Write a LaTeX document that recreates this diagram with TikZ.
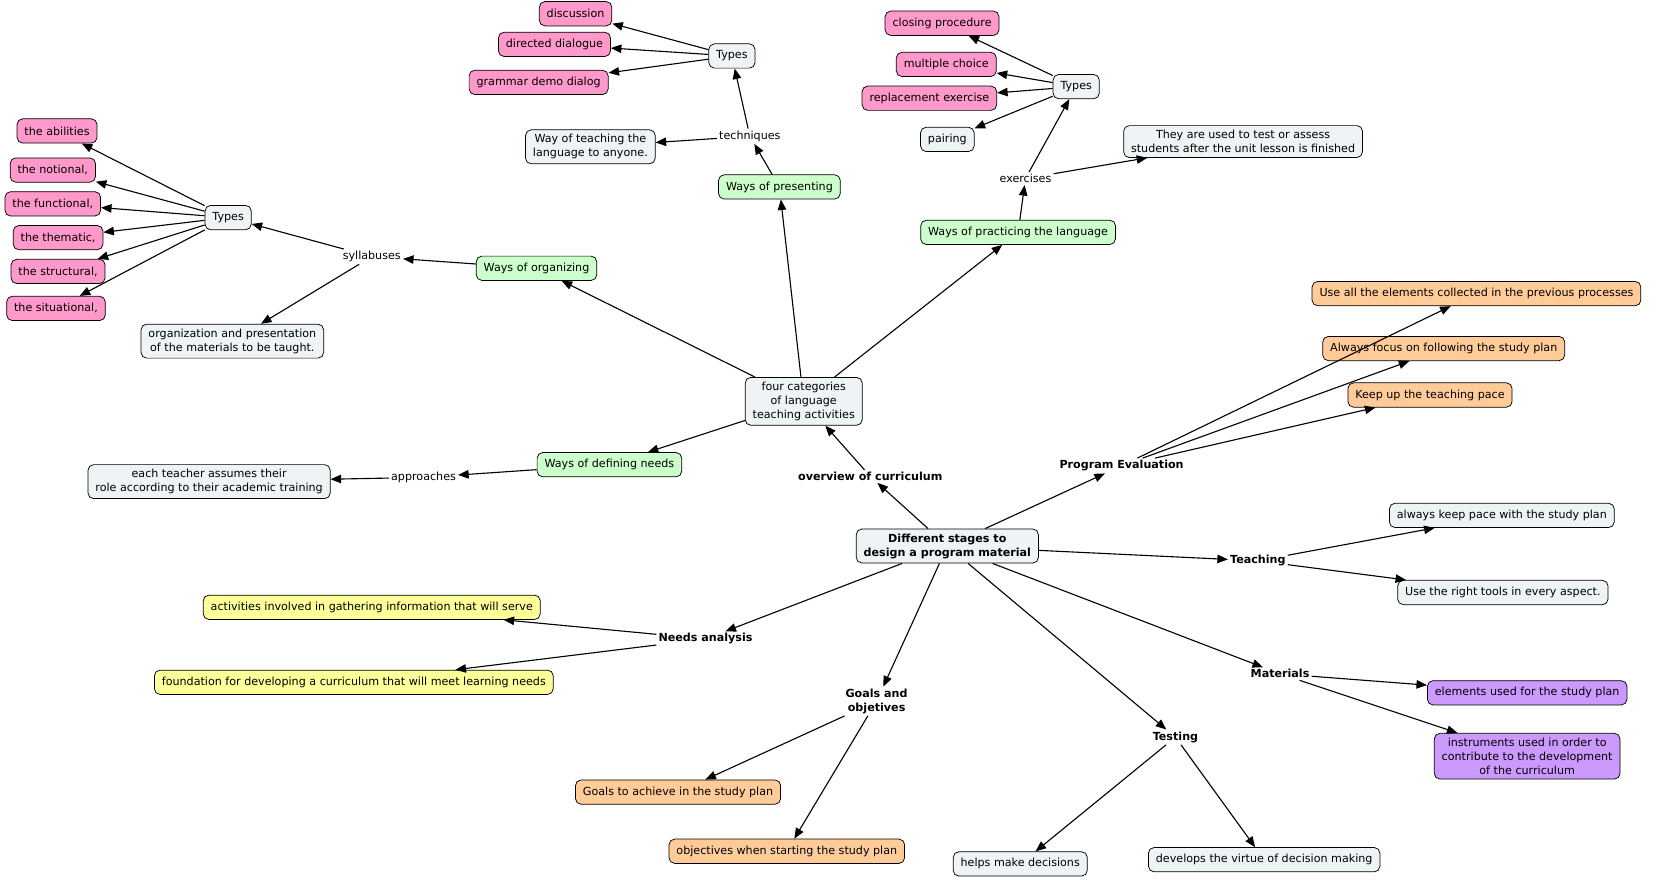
\documentclass[tikz,border=0pt]{standalone}
\usepackage{fontspec}
\setmainfont{DejaVu Sans}
\usetikzlibrary{arrows.meta}
\definecolor{pinkbox}{HTML}{FF99CC}
\definecolor{greenbox}{HTML}{CCFFCC}
\definecolor{orangebox}{HTML}{FFCC99}
\definecolor{yellowbox}{HTML}{FFFF99}
\definecolor{purplebox}{HTML}{CC99FF}
\definecolor{graybox}{HTML}{EEF3F5}
\begin{document}
\begin{tikzpicture}[
		x=0.02cm, y=-0.02cm,
		every node/.style={font=\fontsize{6}{7.5}\selectfont, align=center},
		box/.style={draw, rounded corners=3pt, fill=graybox, inner xsep=4pt, inner ysep=2.5pt, minimum height=0.46cm},
		pinkn/.style={box, fill=pinkbox},
		greenn/.style={box, fill=greenbox},
		orangen/.style={box, fill=orangebox},
		yellown/.style={box, fill=yellowbox},
		purplen/.style={box, fill=purplebox},
		link/.style={inner sep=1pt, fill=white},
		blink/.style={link, font=\fontsize{6}{7.5}\selectfont\bfseries},
		arrow/.style={-{Triangle[length=2mm, width=1.6mm]}, semithick}
		]
		\useasboundingbox (0,0) rectangle (1568,833);
		
		% Centre
		\node[box, font=\fontsize{6}{7.5}\selectfont\bfseries] (stages) at (897,517) {Different stages to\\design a program material};
		\node[blink] (overview) at (824,451) {overview of curriculum};
		\node[box] (four) at (761,380) {four categories\\of language\\teaching activities};
		
		% Ways of defining needs
		\node[greenn] (defining) at (577,440) {Ways of defining needs};
		\node[link] (approaches) at (401,452) {approaches};
		\node[box] (teacher) at (198,456) {each teacher assumes their\\role according to their academic training};
		
		% Ways of organizing
		\node[greenn] (organizing) at (508,254) {Ways of organizing};
		\node[link] (syllabuses) at (352,243) {syllabuses};
		\node[box] (typesA) at (216,206) {Types};
		\node[box] (organization) at (220,323) {organization and presentation\\of the materials to be taught.};
		\node[pinkn] (abilities) at (54,124) {the abilities};
		\node[pinkn] (notional) at (50,161) {the notional,};
		\node[pinkn] (functional) at (50,193) {the functional,};
		\node[pinkn] (thematic) at (55,225) {the thematic,};
		\node[pinkn] (structural) at (55,257) {the structural,};
		\node[pinkn] (situational) at (53,292) {the situational,};
		
		% Ways of presenting
		\node[greenn] (presenting) at (738,177) {Ways of presenting};
		\node[link] (techniques) at (710,129) {techniques};
		\node[box] (wayteach) at (559,139) {Way of teaching the\\language to anyone.};
		\node[box] (typesB) at (693,53) {Types};
		\node[pinkn] (discussion) at (545,13) {discussion};
		\node[pinkn] (directed) at (525,42) {directed dialogue};
		\node[pinkn] (grammar) at (510,78) {grammar demo dialog};
		
		% Ways of practicing
		\node[greenn] (practicing) at (964,220) {Ways of practicing the language};
		\node[link] (exercises) at (971,169) {exercises};
		\node[box] (assess) at (1177,134) {They are used to test or assess\\students after the unit lesson is finished};
		\node[box] (typesC) at (1019,82) {Types};
		\node[pinkn] (closing) at (892,22) {closing procedure};
		\node[pinkn] (multiple) at (896,61) {multiple choice};
		\node[pinkn] (replacement) at (880,93) {replacement exercise};
		\node[box] (pairing) at (897,132) {pairing};
		
		% Program Evaluation
		\node[blink] (evaluation) at (1062,441) {Program Evaluation};
		\node[orangen] (useall) at (1398,278) {Use all the elements collected in the previous processes};
		\node[orangen] (focus) at (1367,330) {Always focus on following the study plan};
		\node[orangen] (pace) at (1354,374) {Keep up the teaching pace};
		
		% Teaching
		\node[blink] (teaching) at (1191,531) {Teaching};
		\node[box] (keeppace) at (1422,488) {always keep pace with the study plan};
		\node[box] (tools) at (1423,561) {Use the right tools in every aspect.};
		
		% Materials
		\node[blink] (materials) at (1212,638) {Materials};
		\node[purplen] (elements) at (1446,656) {elements used for the study plan};
		\node[purplen] (instruments) at (1446,716) {instruments used in order to\\contribute to the development\\of the curriculum};
		
		% Testing
		\node[blink] (testing) at (1113,698) {Testing};
		\node[box] (decisions) at (966,818) {helps make decisions};
		\node[box] (virtue) at (1197,814) {develops the virtue of decision making};
		
		% Goals
		\node[blink] (goals) at (830,664) {Goals and\\objetives};
		\node[orangen] (achieve) at (642,750) {Goals to achieve in the study plan};
		\node[orangen] (objectives) at (745,806) {objectives when starting the study plan};
		
		% Needs analysis
		\node[blink] (needs) at (668,605) {Needs analysis};
		\node[yellown] (gathering) at (352,575) {activities involved in gathering information that will serve};
		\node[yellown] (foundation) at (335,646) {foundation for developing a curriculum that will meet learning needs};
		
		% Links
		\draw[arrow] (stages) -- (overview);
		\draw[arrow] (overview) -- (four);
		\foreach \t in {organizing, presenting, practicing, defining}
			\draw[arrow] (four) -- (\t);
		\draw[arrow] (defining) -- (approaches);
		\draw[arrow] (approaches) -- (teacher);
		\draw[arrow] (organizing) -- (syllabuses);
		\draw[arrow] (syllabuses) -- (typesA);
		\draw[arrow] (syllabuses) -- (organization);
		\foreach \t in {abilities, notional, functional, thematic, structural, situational}
			\draw[arrow] (typesA) -- (\t);
		\draw[arrow] (presenting) -- (techniques);
		\draw[arrow] (techniques) -- (wayteach);
		\draw[arrow] (techniques) -- (typesB);
		\foreach \t in {discussion, directed, grammar}
			\draw[arrow] (typesB) -- (\t);
		\draw[arrow] (practicing) -- (exercises);
		\draw[arrow] (exercises) -- (assess);
		\draw[arrow] (exercises) -- (typesC);
		\foreach \t in {closing, multiple, replacement, pairing}
			\draw[arrow] (typesC) -- (\t);
		\foreach \m in {evaluation, teaching, materials, testing, goals, needs}
			\draw[arrow] (stages) -- (\m);
		\foreach \t in {useall, focus, pace}
			\draw[arrow] (evaluation) -- (\t);
		\draw[arrow] (teaching) -- (keeppace);
		\draw[arrow] (teaching) -- (tools);
		\draw[arrow] (materials) -- (elements);
		\draw[arrow] (materials) -- (instruments);
		\draw[arrow] (testing) -- (decisions);
		\draw[arrow] (testing) -- (virtue);
		\draw[arrow] (goals) -- (achieve);
		\draw[arrow] (goals) -- (objectives);
		\draw[arrow] (needs) -- (gathering);
		\draw[arrow] (needs) -- (foundation);
	\end{tikzpicture}
\end{document}
